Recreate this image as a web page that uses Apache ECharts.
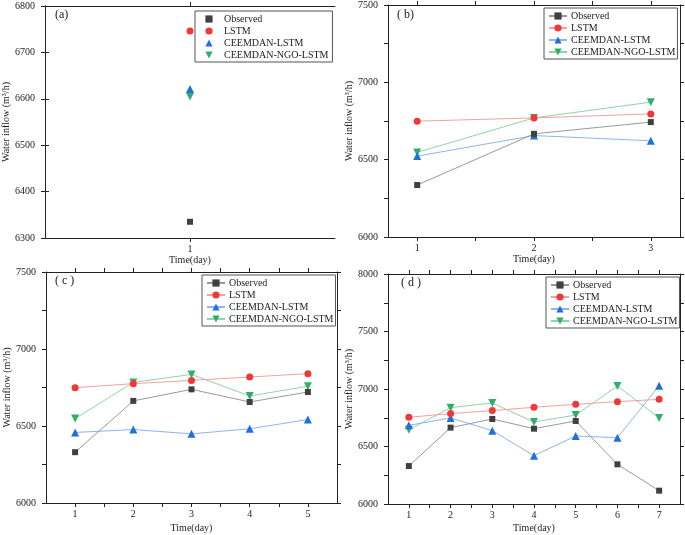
<!DOCTYPE html>
<html>
<head>
<meta charset="utf-8">
<script src="https://cdn.jsdelivr.net/npm/echarts@6/dist/echarts.min.js"></script>
<style>
  html, body { margin: 0; padding: 0; background: #fff; }
  #main { width: 685px; height: 535px; }
</style>
</head>
<body>
<div id="main"></div>
<script>
// series names
var names = ['Observed', 'LSTM', 'CEEMDAN-LSTM', 'CEEMDAN-NGO-LSTM'];

// days per panel
var daysA = [1];
var daysB = [1, 2, 3];
var daysC = [1, 2, 3, 4, 5];
var daysD = [1, 2, 3, 4, 5, 6, 7];

// (a) one day ahead
var obsA = [6335];
var lstmA = [6746];
var ceemdanA = [6621];
var ngoA = [6605];

// (b) three days
var obsB = [6336, 6667, 6743];
var lstmB = [6749, 6770, 6796];
var ceemdanB = [6523, 6656, 6622];
var ngoB = [6547, 6770, 6872];

// (c) five days
var obsC = [6330, 6663, 6738, 6656, 6721];
var lstmC = [6749, 6775, 6796, 6818, 6840];
var ceemdanC = [6458, 6477, 6449, 6482, 6542];
var ngoC = [6548, 6783, 6835, 6695, 6758];

// (d) seven days
var obsD = [6330, 6664, 6739, 6655, 6722, 6345, 6116];
var lstmD = [6754, 6786, 6812, 6841, 6867, 6890, 6910];
var ceemdanD = [6684, 6748, 6638, 6420, 6591, 6577, 7029];
var ngoD = [6646, 6838, 6878, 6713, 6774, 7026, 6748];

var font = '"Liberation Serif", "Times New Roman", serif';
var markColor = ['#404040', '#f03838', '#1f6fe0', '#2fae68'];
var lineColor = ['#9a9a9a', '#f4a0a0', '#8fb4ee', '#8fd4ab'];
var symbols = ['rect', 'circle', 'triangle', 'triangle'];
var symSize = [6, 7, 8, 8];
var symRot = [0, 0, 0, 180];

var panels = [
  {days: daysA, vals: [obsA, lstmA, ceemdanA, ngoA], grid: {left: 45, top: 6, width: 290, height: 232},
   xr: [0, 2], xticks: [1], xlabels: [1], yr: [6300, 6800], yint: 100, ylab: 100, label: '(a)', lx: 55, ly: 9,
   nameGap: 15, leg: {left: 195, top: 11}},
  {days: daysB, vals: [obsB, lstmB, ceemdanB, ngoB], grid: {left: 388, top: 5, width: 292, height: 232},
   xr: [0.75, 3.25], xticks: [1, 1.5, 2, 2.5, 3], xlabels: [1, 2, 3], yr: [6000, 7500], yint: 250, ylab: 500, label: '( b)', lx: 397, ly: 9,
   nameGap: 17, leg: {left: 544, top: 8}},
  {days: daysC, vals: [obsC, lstmC, ceemdanC, ngoC], grid: {left: 46, top: 272, width: 291, height: 231},
   xr: [0.5, 5.5], xticks: [1, 1.5, 2, 2.5, 3, 3.5, 4, 4.5, 5], xlabels: [1, 2, 3, 4, 5], yr: [6000, 7500], yint: 250, ylab: 500, label: '( c )', lx: 55, ly: 275,
   nameGap: 20, leg: {left: 202, top: 275}},
  {days: daysD, vals: [obsD, lstmD, ceemdanD, ngoD], grid: {left: 388, top: 274, width: 292, height: 230},
   xr: [0.5, 7.5], xticks: [1, 1.5, 2, 2.5, 3, 3.5, 4, 4.5, 5, 5.5, 6, 6.5, 7], xlabels: [1, 2, 3, 4, 5, 6, 7], yr: [6000, 8000], yint: 250, ylab: 500, label: '( d )', lx: 401, ly: 277,
   nameGap: 19, leg: {left: 546, top: 277}}
];

var grids = [], xAxes = [], yAxes = [], series = [], legends = [], graphics = [];
var axisLine = {show: true, lineStyle: {color: '#222', width: 1}};
var tickStyle = {color: '#222', width: 1};

panels.forEach(function (p, i) {
  grids.push(p.grid);
  var bx = {
    type: 'value', gridIndex: i, position: 'bottom', min: p.xr[0], max: p.xr[1],
    name: 'Time(day)', nameLocation: 'middle', nameGap: p.nameGap,
    nameTextStyle: {fontFamily: font, fontSize: 10, color: '#222'},
    axisLine: axisLine, splitLine: {show: false},
    axisTick: {show: true, length: 4, lineStyle: tickStyle, customValues: p.xticks},
    axisLabel: {fontFamily: font, fontSize: 10, color: '#222', margin: 6, customValues: p.xlabels}
  };
  var tx = {
    type: 'value', gridIndex: i, position: 'top', min: p.xr[0], max: p.xr[1],
    axisLine: axisLine, splitLine: {show: false},
    axisTick: {show: true, length: 4, lineStyle: tickStyle, customValues: p.xticks},
    axisLabel: {show: false}
  };
  xAxes.push(bx, tx);
  var ly = {
    type: 'value', gridIndex: i, position: 'left', min: p.yr[0], max: p.yr[1], interval: p.yint,
    name: 'Water inflow (m³/h)', nameLocation: 'middle', nameGap: 32,
    nameTextStyle: {fontFamily: font, fontSize: 10, color: '#222'},
    axisLine: axisLine, splitLine: {show: false},
    axisTick: {show: true, length: 4, lineStyle: tickStyle},
    axisLabel: {fontFamily: font, fontSize: 10, color: '#222', margin: 10,
      formatter: function (v) { return v % p.ylab === 0 ? String(v) : ''; }}
  };
  var ry = {
    type: 'value', gridIndex: i, position: 'right', min: p.yr[0], max: p.yr[1], interval: p.yint,
    axisLine: axisLine, splitLine: {show: false},
    axisTick: {show: true, length: 4, lineStyle: tickStyle},
    axisLabel: {show: false}
  };
  yAxes.push(ly, ry);

  names.forEach(function (n, k) {
    series.push({
      name: n, type: 'line', xAxisIndex: i * 2, yAxisIndex: i * 2,
      data: p.days.map(function (d, j) { return [d, p.vals[k][j]]; }),
      symbol: symbols[k], symbolSize: symSize[k], symbolRotate: symRot[k],
      itemStyle: {color: markColor[k]},
      lineStyle: {color: lineColor[k], width: 1},
      z: 10 - k, animation: false
    });
  });

  var leg = {
    left: p.leg.left, top: p.leg.top, orient: 'vertical',
    borderColor: '#555', borderWidth: 1, borderRadius: 0, padding: [3, 2, 2, 4],
    itemGap: 2, itemWidth: 18, itemHeight: 9,
    textStyle: {fontFamily: font, fontSize: 10, color: '#222', padding: [0, 0, 0, -1]},
    data: names.slice()
  };
  if (i === 0) {
    leg.itemWidth = 14;
    leg.padding = [3, 4, 2, 6];
    leg.textStyle = {fontFamily: font, fontSize: 10, color: '#222', padding: [0, 0, 0, 3]};
    leg.lineStyle = {opacity: 0};
  }
  legends.push(leg);

  graphics.push({type: 'text', left: p.lx, top: p.ly,
    style: {text: p.label, font: '12px ' + font, fill: '#222'}});
});

var chart = echarts.init(document.getElementById('main'));
chart.setOption({
  backgroundColor: '#fff',
  animation: false,
  grid: grids,
  xAxis: xAxes,
  yAxis: yAxes,
  legend: legends,
  graphic: graphics,
  series: series
});
</script>
</body>
</html>
